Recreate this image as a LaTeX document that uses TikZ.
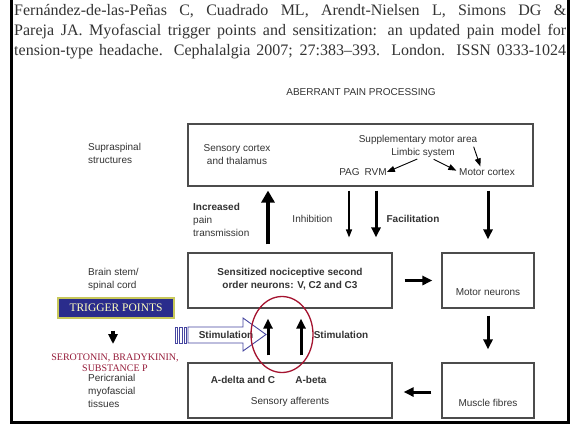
\documentclass[tikz,border=0pt]{standalone}
\usepackage{fontspec}
\setmainfont{Liberation Serif}
\setsansfont{Liberation Sans}
\usetikzlibrary{arrows.meta}
\definecolor{tpblue}{RGB}{42,44,140}
\definecolor{tpyellow}{RGB}{255,255,190}
\definecolor{tpedge}{RGB}{200,200,90}
\definecolor{serored}{RGB}{150,28,58}
\definecolor{ringred}{RGB}{165,20,48}
\definecolor{hollowblue}{RGB}{70,70,160}
\tikzset{
	box/.style = {draw=black!70, line width=1.1pt, minimum width=#1, inner sep=0pt},
	lbl/.style = {font=\sffamily\fontsize{10}{13}\selectfont, text=black!80, align=center, inner sep=0pt},
	boldlbl/.style = {lbl, font=\sffamily\bfseries\fontsize{10}{13}\selectfont},
	sidelbl/.style = {lbl, align=left, anchor=west},
	bigarr/.style = {line width=4.5pt, -{Triangle[width=13pt,length=12pt]}},
	medarr/.style = {line width=3pt, -{Triangle[width=9pt,length=10pt]}},
	smallarr/.style = {line width=1.2pt, -{Triangle[width=6pt,length=8pt]}},
	citeline/.style = {anchor=base west, inner sep=0pt, text=black!80, font=\fontsize{16}{20}\selectfont}
}
\begin{document}
\begin{tikzpicture}[x=1pt, y=-1pt]
	\useasboundingbox (0,0) rectangle (578,426);
	\fill [white] (0,0) rectangle (578,426);
	\draw [line width=3.5pt] (11.5,0) -- (11.5,422.5) -- (568.5,422.5) -- (568.5,0);
	\node [citeline] (cite1) at (14,15) {\makebox[552pt][s]{Fernández-de-las-Peñas C, Cuadrado ML, Arendt-Nielsen L, Simons DG \&}};
	\node [citeline] (cite2) at (14,35) {\makebox[552pt][s]{Pareja JA. Myofascial trigger points and sensitization: an updated pain model for}};
	\node [citeline] (cite3) at (14,55) {\makebox[552pt][s]{tension-type headache. Cephalalgia 2007; 27:383–393. London. ISSN 0333-1024}};

	\node [lbl] (title) at (361,92) {ABERRANT PAIN PROCESSING};

	\node [box=345pt, minimum height=62pt] (supra) at (360.5,155) {};
	\node [box=204pt, minimum height=55pt] (nocic) at (290,280.5) {};
	\node [box=92pt, minimum height=55pt] (motor) at (488,280.5) {};
	\node [box=204pt, minimum height=55pt] (afferent) at (290,390.5) {};
	\node [box=92pt, minimum height=55pt] (muscle) at (488,390.5) {};

	\node [sidelbl] (supralbl) at (88,153.5) {Supraspinal\\structures};
	\node [sidelbl] (brainlbl) at (88,279.5) {Brain stem/\\spinal cord};
	\node [sidelbl] (perilbl) at (88,391) {Pericranial\\myofascial\\tissues};

	\node [lbl] (sensctx) at (237,155) {Sensory cortex\\and thalamus};
	\node [lbl] (suppl) at (418,140) {Supplementary motor area};
	\node [lbl] (limbic) at (423,153) {Limbic system};
	\node [lbl] (pagrvm) at (363,172) {PAG\enspace RVM};
	\node [lbl] (motorctx) at (487,172) {Motor cortex};
	\draw [smallarr, line width=0.9pt, shorten <=3pt] ([xshift=-3pt]limbic.south) -- (pagrvm.east);
	\draw [smallarr, line width=0.9pt, shorten <=3pt, shorten >=3pt] ([xshift=8pt]limbic.south) -- (motorctx.west);
	\draw [smallarr, line width=0.9pt, shorten <=2pt, shorten >=2pt] ([xshift=55pt]suppl.south) -- ([xshift=-6pt]motorctx.north);

	\node [sidelbl] (incr) at (193,220) {\textbf{Increased}\\pain\\transmission};
	\node [lbl] (inhib) at (312.5,219) {Inhibition};
	\node [boldlbl] (facil) at (413,219) {Facilitation};
	\draw [bigarr, shorten <=8pt, shorten >=4pt] (nocic.north -| 268,0) -- (supra.south -| 268,0);
	\draw [smallarr, shorten <=4pt, shorten >=15pt] (supra.south -| 349,0) -- (nocic.north -| 349,0);
	\draw [medarr, shorten <=4pt, shorten >=15pt] (supra.south -| 376,0) -- (nocic.north -| 376,0);
	\draw [medarr, shorten <=4pt, shorten >=13pt] (supra.south -| motor.north) -- (motor.north);

	\node [boldlbl] (nociclbl) at (290,279.5) {Sensitized nociceptive second\\order neurons: V, C2 and C3};
	\node [lbl] (motorlbl) at (488,292) {Motor neurons};
	\node [boldlbl] (adelta) at (243,380) {A-delta and C};
	\node [boldlbl] (abeta) at (311,380) {A-beta};
	\node [lbl] (afflbl) at (290,402) {Sensory afferents};
	\node [lbl] (musclelbl) at (488,403) {Muscle fibres};
	\draw [medarr, shorten <=12pt, shorten >=9pt] (nocic.east) -- (motor.west);
	\draw [medarr, shorten <=7pt, shorten >=13pt] (motor.south) -- (muscle.north);
	\draw [medarr, shorten <=10pt, shorten >=11pt] (muscle.west |- 0,392) -- (afferent.east |- 0,392);
	\draw [medarr, shorten <=7pt, shorten >=10pt] (afferent.north -| 268,0) -- (nocic.south -| 268,0);
	\draw [medarr, shorten <=7pt, shorten >=10pt] (afferent.north -| 301,0) -- (nocic.south -| 301,0);

	\draw [hollowblue, line width=0.9pt, fill=white] (188,327) -- (243,327) -- (243,318) -- (266,334.5) -- (243,351) -- (243,343) -- (188,343) -- cycle;
	\draw [hollowblue, line width=0.9pt] (175,327) rectangle (177.3,343);
	\draw [hollowblue, line width=0.9pt] (179.3,327) rectangle (182,343);
	\draw [hollowblue, line width=0.9pt] (184,327) rectangle (186.7,343);
	\node [boldlbl] (stim1) at (226,335) {Stimulation};
	\node [boldlbl] (stim2) at (341,335) {Stimulation};
	\draw [ringred, line width=1.3pt] (282,334.5) ellipse (31 and 38);

	\node [draw=tpedge, line width=1.2pt, fill=tpblue, text=tpyellow, minimum width=116pt, minimum height=20pt, inner sep=0pt, font=\fontsize{11.5}{13}\selectfont] (trigger) at (116,308) {TRIGGER POINTS};
	\node [align=center, inner sep=0pt, text=serored, font=\fontsize{10}{11.5}\selectfont] (sero) at (115,362.5) {SEROTONIN, BRADYKININ,\\SUBSTANCE P};
	\draw [medarr, line width=3.5pt, shorten <=12pt, shorten >=2pt] (trigger.south -| 113,0) -- (113,346);
\end{tikzpicture}
\end{document}
